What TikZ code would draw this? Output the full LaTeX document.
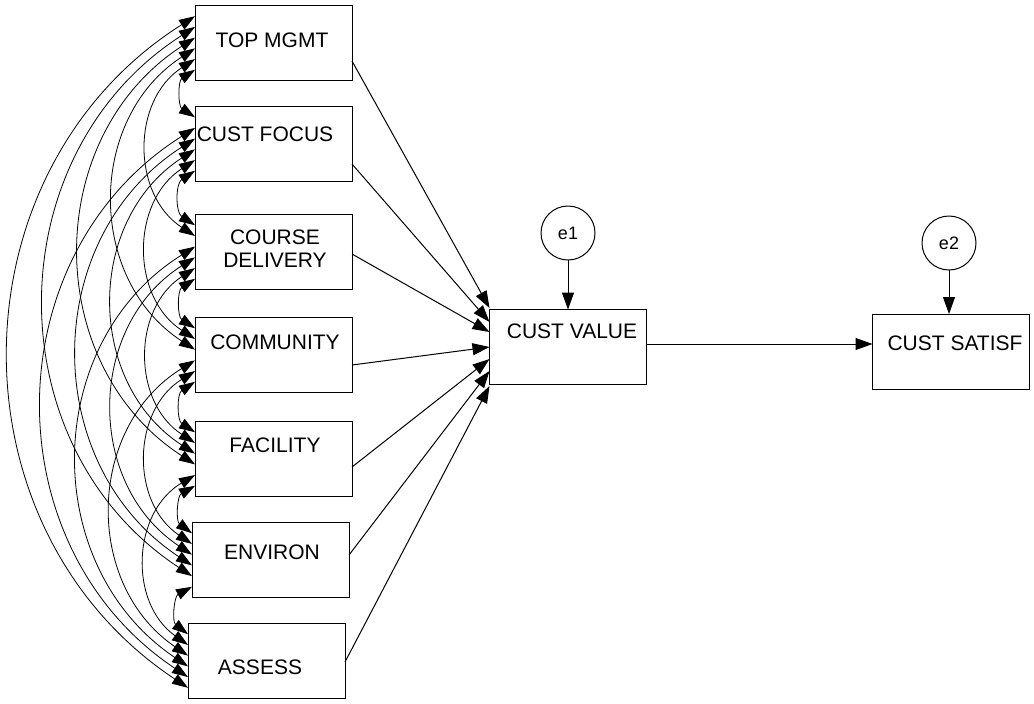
\documentclass[tikz,border=0pt]{standalone}
\usepackage{fontspec}
\setmainfont{Liberation Sans}
\usepackage{tikz}
\usetikzlibrary{positioning,arrows.meta,calc}

\begin{document}
\begin{tikzpicture}[
  x=0.5pt, y=-0.5pt,
  box/.style={rectangle, draw, line width=0.5pt, minimum width=78.5pt, minimum height=37.5pt, inner sep=0pt, outer sep=0pt},
  lbl/.style={font=\fontsize{10.5}{11.5}\selectfont, align=center, inner sep=0pt},
  err/.style={circle, draw, line width=0.5pt, minimum size=27pt, inner sep=0pt, outer sep=0pt, font=\fontsize{9}{10}\selectfont},
  arr/.style={-{Triangle[length=8.5pt,width=6pt]}, line width=0.5pt},
  cov/.style={{Triangle[length=8pt,width=5.5pt]}-{Triangle[length=8pt,width=5.5pt]}, line width=0.4pt, bend right=57, looseness=1.1}
]
\useasboundingbox (0,0) rectangle (1034,703);
% exogenous column
\node[box] (x1) at (273.5,43) {};
\node[box, below=13pt of x1] (x2) {};
\node[box, below=16.5pt of x2] (x3) {};
\node[box, below=14pt of x3] (x4) {};
\node[box, below=14.5pt of x4] (x5) {};
\node[box, below=13pt of x5, xshift=-1.5pt] (x6) {};
\node[box, below=13pt of x6, xshift=-2pt] (x7) {};
\node[lbl] (t1) at ([shift={(-1.5,-3)}]x1.center) {TOP MGMT};
\node[lbl] (t2) at ([shift={(-8.5,-10)}]x2.center) {CUST FOCUS};
\node[lbl] (t3) at ([shift={(1.5,-3.5)}]x3.center) {COURSE\\DELIVERY};
\node[lbl] (t4) at ([shift={(1.5,-13)}]x4.center) {COMMUNITY};
\node[lbl] (t5) at ([shift={(1.5,-13.5)}]x5.center) {FACILITY};
\node[lbl] (t6) at ([shift={(1.5,-8)}]x6.center) {ENVIRON};
\node[lbl] (t7) at ([shift={(-6.5,6.5)}]x7.center) {ASSESS};
% endogenous
\node[box] (cv) at (568,347) {};
\node[box] (cs) at (951,351.5) {};
\node[lbl] (tv) at ([shift={(4,-16)}]cv.center) {CUST VALUE};
\node[lbl] (ts) at ([shift={(4,-8.5)}]cs.center) {CUST SATISF};
\node[err] (e1) at (568,233) {e1};
\node[err] (e2) at (949,243) {e2};
% paths
\foreach \i/\ys/\ye in {1/61/308, 2/164/322, 3/254/332, 4/365/347, 5/467/359, 6/555/371, 7/662/386}
  \draw[arr] (x\i.east |- 0,\ys) -- (cv.west |- 0,\ye);
\draw[arr] (cv.east |- 0,344) -- (cs.west |- 0,344);
\draw[arr] (e1) -- (cv);
\draw[arr] (e2.south) -- (cs.north -| e2.south);
% covariances
\foreach \i in {1,...,6} {
  \pgfmathtruncatemacro{\k}{\i+1}
  \foreach \j in {\k,...,7} {
    \pgfmathsetmacro{\fu}{(\i+7-\j)/7}
    \pgfmathsetmacro{\fl}{(\j-\i)/7}
    \draw[cov] ($(x\i.north west)!\fu!(x\i.south west)$) to ($(x\j.north west)!\fl!(x\j.south west)$);
  }
}
\end{tikzpicture}
\end{document}
